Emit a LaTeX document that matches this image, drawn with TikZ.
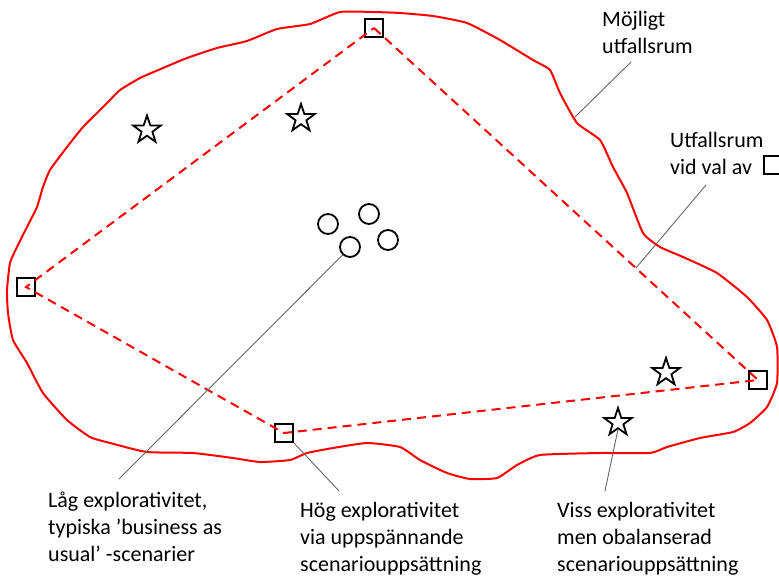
\documentclass[tikz,border=0pt]{standalone}
\usepackage{fontspec}
\setmainfont{Carlito}
\usetikzlibrary{shapes.geometric,calc}
\begin{document}
\begin{tikzpicture}[x=1pt,y=-1pt,
  blob/.style={draw=red, line width=2pt, line join=round},
  edgeline/.style={draw=red, line width=2pt, dash pattern=on 9pt off 6pt},
  sq/.style={draw=black, line width=1.8pt, rectangle, minimum size=18pt, inner sep=0pt},
  starnode/.style={draw=black, line width=1.8pt, star, star points=5, star point ratio=2.55, minimum size=29pt, inner sep=0pt},
  dot/.style={draw=black, line width=1.8pt, circle, minimum size=20pt, inner sep=0pt},
  leader/.style={draw=black!60, line width=0.9pt},
  lbl/.style={anchor=base west, align=left, inner sep=0pt, font=\fontsize{22}{27}\selectfont},
]
\useasboundingbox (0,0) rectangle (779,576);
\clip (0,0) rectangle (779,576);

% possible outcome space
\draw[blob] plot[smooth cycle, tension=0.3] coordinates {
(340,12) (373,12) (400,13) (433,16) (467,23) (500,40) (533,60) (550,70) (560,93)
(577,123) (600,140) (613,167) (627,193) (643,233) (660,247) (683,257) (717,273)
(747,297) (767,320) (777,347) (777,383) (767,407) (750,423) (733,432) (700,438)
(667,447) (650,453) (600,453) (540,455) (517,465) (497,478) (470,479) (447,473)
(420,460) (400,447) (367,443) (333,448) (307,453) (290,460) (260,462) (233,458)
(193,453) (147,452) (110,443) (90,437) (67,420) (43,393) (27,363) (13,340)
(8,313) (7,290) (10,263) (17,247) (27,227) (37,207) (43,187) (50,170) (67,147)
(83,127) (100,110) (110,100) (120,90) (140,78) (163,68) (187,58) (217,48)
(247,41) (277,29) (310,24)};

% vertices
\node[sq] (vt) at (374,28) {};
\node[sq] (vr) at (758,380) {};
\node[sq] (vb) at (284,433) {};
\node[sq] (vl) at (26,287) {};

\draw[edgeline] (vt.center) -- (vr.center) -- (vb.center) -- (vl.center) -- cycle;

% stars
\node[starnode] (s1) at (147,130) {};
\node[starnode] (s2) at (301,118.5) {};
\node[starnode] (s3) at (666,372.5) {};
\node[starnode] (s4) at (618,422.5) {};

% circles
\node[dot] (c1) at (328,224) {};
\node[dot] (c2) at (369,214) {};
\node[dot] (c3) at (350,247) {};
\node[dot] (c4) at (388,240) {};

% labels (anchor at the baseline of the last line)
\node[lbl] (tm) at (602,53) {Möjligt\\utfallsrum};
\node[lbl] (tu) at (670,174) {Utfallsrum\\vid val av};
\node[draw=black, line width=1.5pt, rectangle, minimum size=18pt, inner sep=0pt] (tusq) at (773,165) {};
\node[lbl] (tl) at (48,561) {Låg explorativitet,\\typiska ’business as\\usual’ -scenarier};
\node[lbl] (th) at (300,571) {Hög explorativitet\\via uppspännande\\scenariouppsättning};
\node[lbl] (tv) at (557,571) {Viss explorativitet\\men obalanserad\\scenariouppsättning};

% leader lines
\coordinate (m1) at (575,117);
\coordinate (m2) at (631,62);
\coordinate (u1) at ($(vt.center)!0.682!(vr.center)$);
\coordinate (u2) at (706,185);
\coordinate (l2) at (119,479);
\coordinate (h2) at (339,491);
\coordinate (v2) at (605,491);
\draw[leader] (m1) -- (m2);
\draw[leader] (u1) -- (u2);
\draw[leader] (c3.-133) -- (l2);
\draw[leader] (vb.south east) -- (h2);
\draw[leader] (s4.south) -- (v2);
\end{tikzpicture}
\end{document}
